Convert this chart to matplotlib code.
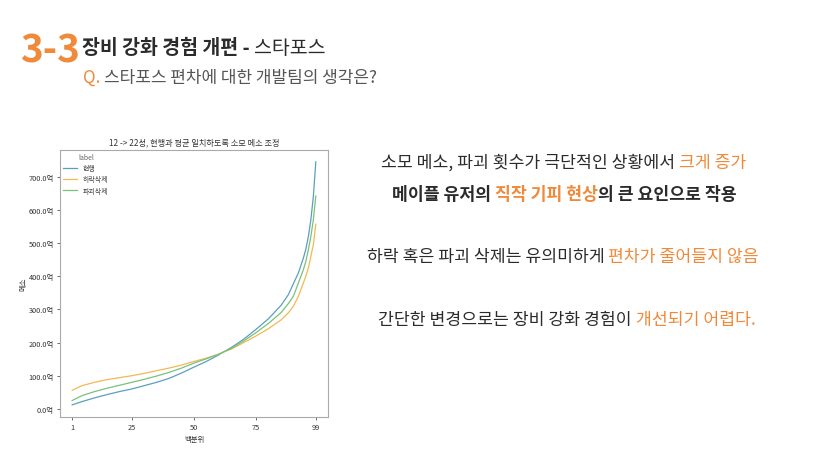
import matplotlib
matplotlib.use("Agg")
import matplotlib.pyplot as plt
from matplotlib.offsetbox import TextArea, HPacker, AnnotationBbox
from matplotlib.ticker import FuncFormatter

plt.rcParams['font.family'] = ['Noto Sans CJK KR', 'DejaVu Sans']

# ---------------- data ----------------
percentile = [1, 5, 10, 15, 20, 25, 30, 35, 40, 45, 50, 55, 60, 62, 65, 70,
              75, 80, 85, 88, 90, 92, 94, 95, 96, 97, 98, 99]
current = [12, 22, 33, 43, 52, 60, 70, 80, 92, 108, 126, 143, 163, 172, 185, 210,
           240, 272, 312, 345, 378, 410, 455, 482, 520, 570, 640, 745]
no_drop = [56, 70, 80, 88, 94, 100, 107, 115, 123, 132, 143, 153, 165, 172, 180, 200,
           220, 242, 268, 290, 310, 340, 380, 400, 425, 460, 495, 557]
no_destroy = [25, 40, 52, 62, 71, 80, 89, 99, 110, 123, 138, 151, 165, 172, 182, 205,
              230, 258, 290, 318, 340, 380, 420, 445, 480, 520, 570, 642]
series_names = ['현행', '하락삭제', '파괴삭제']
xticks = [1, 25, 50, 75, 99]
yticks = [0, 100, 200, 300, 400, 500, 600, 700]

chart_title = '12 -> 22성, 현행과 평균 일치하도록 소모 메소 조정'
x_label = '백분위'
y_label = '메소'
legend_title = 'label'

ORANGE = '#ef8a3a'
DARK = '#2b2b2b'
GRAY = '#555555'
colors = ['#5b9fc0', '#f3b854', '#79c27a']

W, H = 823, 460
fig = plt.figure(figsize=(W / 100, H / 100), dpi=100)
fig.patch.set_facecolor('white')

# ---------------- chart ----------------
ax = fig.add_axes([60 / W, 1 - 418 / H, (328 - 60) / W, (418 - 150.7) / H])
for vals, name, c in zip([current, no_drop, no_destroy], series_names, colors):
    ax.plot(percentile, vals, color=c, lw=0.9, label=name)
ax.set_xticks(xticks)
ax.set_yticks(yticks)
ax.yaxis.set_major_formatter(FuncFormatter(lambda v, p: f'{v:.1f}억'))
ax.tick_params(labelsize=5.3, colors='#555555', length=2.5, width=0.6, pad=2)
for tl in ax.get_xticklabels() + ax.get_yticklabels():
    tl.set_color('#333333')
for s in ax.spines.values():
    s.set_color('#aaaaaa')
    s.set_linewidth(0.8)
ax.set_title(chart_title, fontsize=5.9, color='#333333', pad=4)
ax.set_xlabel(x_label, fontsize=5.3, color='#333333', labelpad=3)
ax.set_ylabel(y_label, fontsize=5.3, color='#333333', labelpad=1)
leg = ax.legend(title=legend_title, loc='upper left', fontsize=5, title_fontsize=5,
                frameon=False, handlelength=2.0, borderaxespad=0.2, borderpad=0.3,
                labelspacing=0.45, handletextpad=0.8)
for t in leg.get_texts():
    t.set_color('#444444')
leg.get_title().set_color('#666666')

# ---------------- slide text ----------------
fig.text(20 / W, 1 - 51 / H, '3-3', fontsize=28, fontweight='bold', color=ORANGE,
         va='center', ha='left')


def rich_line(parts, x, y, ha_align=0.5, size=12.4):
    areas = []
    for txt, col, bold in parts:
        areas.append(TextArea(txt, textprops=dict(color=col, fontsize=size,
                                                  fontweight='bold' if bold else 'normal')))
    box = HPacker(children=areas, align='baseline', pad=0, sep=0)
    ab = AnnotationBbox(box, (x / W, 1 - y / H), xycoords='figure fraction',
                        box_alignment=(ha_align, 0.5), frameon=False, pad=0)
    fig.add_artist(ab)


rich_line([('장비 강화 경험 개편 - ', DARK, True), ('스타포스', DARK, False)],
          82, 48, ha_align=0.0, size=14)
rich_line([('Q. ', ORANGE, False), ('스타포스 편차에 대한 개발팀의 생각은?', GRAY, False)],
          83, 78, ha_align=0.0, size=12.25)

rich_line([('소모 메소, 파괴 횟수가 극단적인 상황에서 ', DARK, False), ('크게 증가', ORANGE, False)],
          564, 163)
rich_line([('메이플 유저의 ', DARK, True), ('직작 기피 현상', ORANGE, True),
           ('의 큰 요인으로 작용', DARK, True)], 564, 195)
rich_line([('하락 혹은 파괴 삭제는 유의미하게 ', DARK, False), ('편차가 줄어들지 않음', ORANGE, False)],
          563, 257)
rich_line([('간단한 변경으로는 장비 강화 경험이 ', DARK, False), ('개선되기 어렵다.', ORANGE, False)],
          567, 320)

fig.savefig('out.png', dpi=100, facecolor='white')
